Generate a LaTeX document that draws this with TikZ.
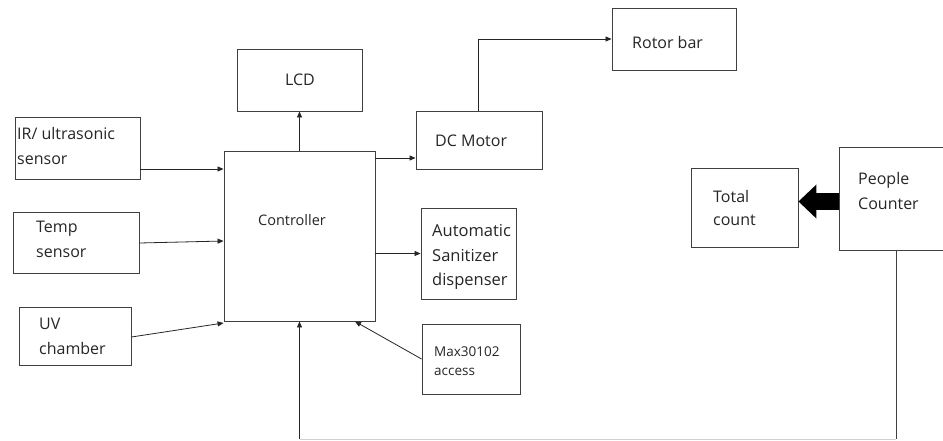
\documentclass[tikz,border=0pt]{standalone}
\usepackage{fontspec}
\setmainfont{Open Sans}
\usetikzlibrary{arrows.meta}
\begin{document}
\begin{tikzpicture}[x=1pt,y=-1pt,
  box/.style={draw=black!75,line width=0.9pt,inner sep=0pt,minimum width=#1},
  txt/.style={inner sep=0pt,align=left,anchor=west,font=\fontsize{16}{25}\selectfont,text=black!85},
  arr/.style={line width=0.8pt,draw=black!85,-{Triangle[length=6pt 0,width=5pt 0]}},
  fat/.style={line width=17pt,-{Triangle[length=18pt 0,width=33pt 0]}}]
\useasboundingbox (0,0) rectangle (943,440);
\fill[white] (0,0) rectangle (943,440);
% boxes
\node[box=125pt,minimum height=62pt] (ir) at (77.5,148) {};
\node[box=126pt,minimum height=61pt] (temp) at (76,242.5) {};
\node[box=112pt,minimum height=58pt] (uv) at (75,336) {};
\node[box=151pt,minimum height=170pt] (ctrl) at (299.5,236) {};
\node[box=125pt,minimum height=62pt] (lcd) at (299.5,80) {};
\node[box=126pt,minimum height=58pt] (dc) at (479,140) {};
\node[box=124pt,minimum height=62pt] (rotor) at (674,39) {};
\node[box=95pt,minimum height=91pt] (san) at (468.5,253.5) {};
\node[box=98pt,minimum height=70pt] (max) at (471,359) {};
\node[box=107pt,minimum height=79pt] (total) at (744.5,207.5) {};
\node[box=112pt,minimum height=103pt] (people) at (895,198.5) {};
% texts
\node[txt] (irT) at (17,145.5) {IR/ ultrasonic\\sensor};
\node[txt] (tempT) at (36,239) {Temp\\sensor};
\node[txt] (uvT) at (39,336.5) {UV\\chamber};
\node[txt,anchor=center,font=\fontsize{14.5}{18}\selectfont] (ctrlT) at (292,220) {Controller};
\node[txt,anchor=center] (lcdT) at (300,80) {LCD};
\node[txt] (dcT) at (435,141) {DC Motor};
\node[txt] (rotorT) at (632,42) {Rotor bar};
\node[txt,font=\fontsize{16.5}{24.5}\selectfont] (sanT) at (432,257) {Automatic\\Sanitizer\\dispenser};
\node[txt,font=\fontsize{13.5}{19}\selectfont] (maxT) at (434,361.5) {Max30102\\access};
\node[txt,font=\fontsize{16}{23}\selectfont] (totalT) at (713,207.5) {Total\\count};
\node[txt] (peopleT) at (858,190.5) {People\\Counter};
% connectors
\draw[arr] (ir.east |- 0,169) -- (ctrl.west |- 0,169);
\draw[arr] (temp.east |- 0,243) -- (ctrl.west |- 0,241);
\draw[arr] (uv.east |- 0,337) -- (ctrl.west |- 0,323);
\draw[arr] (ctrl.north) -- (lcd.south);
\draw[arr] (ctrl.east |- 0,158) -- (dc.west |- 0,158);
\draw[arr] (dc.north -| 478,0) |- (rotor.west);
\draw[arr] (ctrl.east |- san.west) -- (san.west);
\draw[arr] (max.west) -- (ctrl.south -| 355,0);
\draw[fat] (people.west |- 0,201.5) -- (total.east |- 0,201.5);
\coordinate (c1) at (896,439);
\coordinate (c2) at (299.5,439);
\draw[line width=0.9pt,black!75] (people.south -| c1) -- (c1);
\draw[line width=0.9pt,black!18] (c1) -- (c2);
\draw[arr] (c2) -- (ctrl.south);
\end{tikzpicture}
\end{document}
